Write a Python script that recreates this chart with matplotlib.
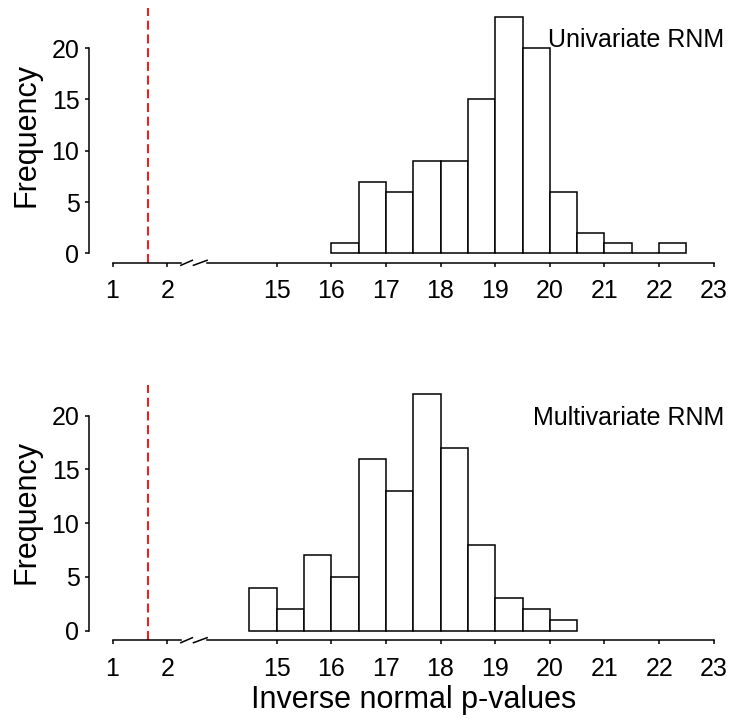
import numpy as np
import matplotlib
matplotlib.use('Agg')
import matplotlib.pyplot as plt

plt.rcParams['font.family'] = ['Liberation Sans', 'DejaVu Sans']

# histogram bins (width 0.5), left edges in original units
uni_edges = [16.0, 16.5, 17.0, 17.5, 18.0, 18.5, 19.0, 19.5, 20.0, 20.5, 21.0, 21.5, 22.0]
uni_counts = [1, 7, 6, 9, 9, 15, 23, 20, 6, 2, 1, 0, 1]

multi_edges = [14.5, 15.0, 15.5, 16.0, 16.5, 17.0, 17.5, 18.0, 18.5, 19.0, 19.5, 20.0]
multi_counts = [4, 2, 7, 5, 16, 13, 22, 17, 8, 3, 2, 1]

bin_width = 0.5
crit = 1.645  # one-sided 5% cut-off

xtick_vals = [1, 2, 15, 16, 17, 18, 19, 20, 21, 22, 23]
ytick_vals = [0, 5, 10, 15, 20]

GAP = 11  # values >= 15 are shifted left by this much (broken axis)


def to_disp(v):
    v = np.asarray(v, dtype=float)
    return np.where(v >= 10, v - GAP, v)


fig = plt.figure(figsize=(7.30, 7.19), dpi=100)
W, H = 730, 719

panels = [
    (uni_edges, uni_counts, 'Univariate RNM', 262.8, 8.0, 46.7),
    (multi_edges, multi_counts, 'Multivariate RNM', 640.2, 384.7, 425.0),
]

for edges, counts, label, y_bot, y_top, lab_base in panels:
    ax = fig.add_axes([88.5 / W, 1 - y_bot / H, 1 - 88.5 / W, (y_bot - y_top) / H])
    ax.bar(to_disp(edges), counts, width=bin_width, align='edge',
           facecolor='white', edgecolor='black', linewidth=1.1)
    ax.axvline(crit, color='red', linestyle=(0, (5, 2.6)), linewidth=1.3)

    ymax = max(counts)
    ax.set_ylim(-0.04 * ymax, 1.04 * ymax)
    ax.set_xlim(0.56, 0.56 + (W - 88.5) / 54.66)

    for s in ['top', 'right', 'bottom']:
        ax.spines[s].set_visible(False)
    ax.spines['left'].set_bounds(0, 20)
    ax.spines['left'].set_linewidth(1.1)

    ax.set_yticks(ytick_vals)
    ax.set_xticks(to_disp(xtick_vals))
    ax.set_xticklabels([str(v) for v in xtick_vals])
    ax.tick_params(axis='both', direction='out', length=3, width=1.1, labelsize=18)
    ax.tick_params(axis='x', pad=9)
    ax.tick_params(axis='y', pad=3.5)

    # x axis line with break
    tr = ax.get_xaxis_transform()
    lo, hi = to_disp(xtick_vals[0]), to_disp(xtick_vals[-1])
    ax.plot([lo, 2.25], [0, 0], color='black', lw=1.1, transform=tr, clip_on=False)
    ax.plot([2.73, hi], [0, 0], color='black', lw=1.1, transform=tr, clip_on=False)
    dy = 2.5 / (y_bot - y_top)
    ax.plot([2.25, 2.46], [-dy, dy], color='black', lw=1.1, transform=tr, clip_on=False)
    ax.plot([2.48, 2.73], [-dy, dy], color='black', lw=1.1, transform=tr, clip_on=False)

    fig.text(724 / W, 1 - lab_base / H, label, ha='right', va='baseline', fontsize=18)
    fig.text(26 / W, 1 - (y_bot + y_top) / 2 / H, 'Frequency', rotation=90,
             ha='center', va='center', fontsize=22)

fig.text(414 / W, 1 - 708 / H, 'Inverse normal p-values', ha='center', va='baseline', fontsize=22)

fig.savefig('out.png', dpi=100)
